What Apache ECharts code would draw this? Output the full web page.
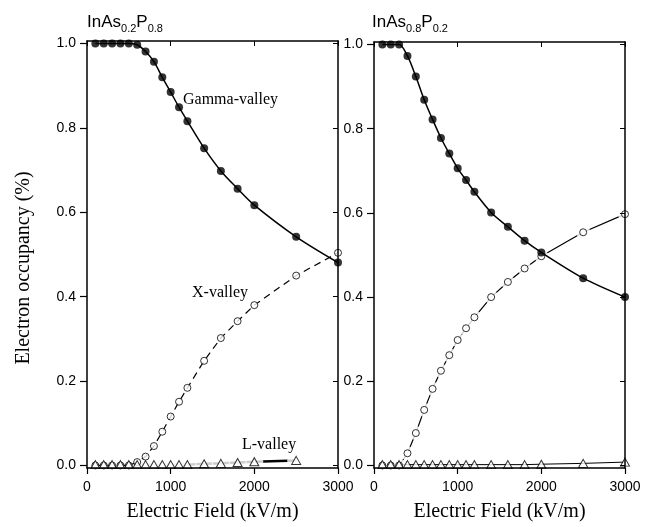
<!DOCTYPE html>
<html>
<head>
<meta charset="utf-8">
<title>Electron occupancy</title>
<script src="https://cdn.jsdelivr.net/npm/echarts@6/dist/echarts.min.js"></script>
<style>
  html, body { margin: 0; padding: 0; background: #fff; }
  #chart { width: 655px; height: 527px; }
</style>
</head>
<body>
<div id="chart"></div>
<script>
// 电场强度 (kV/m)
const fieldPoints = [100, 200, 300, 400, 500, 600, 700, 800, 900, 1000, 1100, 1200, 1400, 1600, 1800, 2000, 2500, 3000];

// InAs0.2P0.8
const gammaLeft = [1.0, 1.0, 1.0, 1.0, 1.0, 0.997, 0.981, 0.957, 0.920, 0.885, 0.849, 0.816, 0.752, 0.698, 0.656, 0.617, 0.542, 0.481];
const xValleyLeft = [0, 0, 0, 0, 0, 0.008, 0.021, 0.046, 0.080, 0.116, 0.151, 0.184, 0.248, 0.302, 0.342, 0.380, 0.450, 0.504];
const lValleyLeft = [0.002, 0.002, 0.002, 0.002, 0.002, 0.002, 0.002, 0.002, 0.002, 0.002, 0.002, 0.002, 0.004, 0.005, 0.007, 0.009, 0.012, null];

// InAs0.8P0.2
const gammaRight = [1.0, 1.0, 1.0, 0.973, 0.924, 0.869, 0.822, 0.778, 0.741, 0.706, 0.678, 0.650, 0.601, 0.567, 0.534, 0.506, 0.445, 0.400];
const xValleyRight = [0, 0, 0, 0.029, 0.077, 0.132, 0.182, 0.225, 0.262, 0.298, 0.326, 0.352, 0.400, 0.436, 0.468, 0.497, 0.554, 0.597];
const lValleyRight = [0.002, 0.002, 0.002, 0.002, 0.002, 0.002, 0.002, 0.002, 0.002, 0.002, 0.002, 0.002, 0.002, 0.002, 0.002, 0.003, 0.005, 0.008];

// 刻度
const yTicks = [0, 0.2, 0.4, 0.6, 0.8, 1.0];

const fontSans = 'Liberation Sans, Arial, sans-serif';
const fontSerif = 'Liberation Serif, Times New Roman, serif';

const chart = echarts.init(document.getElementById('chart'));

function pairs(xs, ys) {
    return xs.map((x, i) => [x, ys[i]]).filter(p => p[1] != null);
}

// 坐标轴 (每个面板: 下/上 x 轴, 左/右 y 轴)
function buildXAxes(gi) {
    const base = {
        gridIndex: gi, type: 'value', min: 0, max: 3000, interval: 1000, z: 20,
        splitLine: { show: false },
        axisLine: { onZero: false, lineStyle: { color: '#000', width: 1.5 } }
    };
    return [
        Object.assign({}, base, {
            position: 'bottom',
            axisTick: { inside: false, length: 6, lineStyle: { color: '#000', width: 1.2 } },
            axisLabel: { color: '#000', fontFamily: fontSans, fontSize: 14, margin: 12, formatter: v => String(v) },
            name: 'Electric Field (kV/m)',
            nameLocation: 'middle',
            nameGap: 34,
            nameTextStyle: { color: '#000', fontFamily: fontSerif, fontSize: 20 }
        }),
        Object.assign({}, base, {
            position: 'top',
            axisTick: { inside: true, length: 5, lineStyle: { color: '#000', width: 1 } },
            axisLabel: { show: false }
        })
    ];
}

function buildYAxes(gi) {
    const base = {
        gridIndex: gi, type: 'value', min: -0.006, max: 1.006, z: 20,
        splitLine: { show: false },
        axisLine: { onZero: false, lineStyle: { color: '#000', width: 1.5 } }
    };
    return [
        Object.assign({}, base, {
            position: 'left',
            axisTick: { inside: false, length: 7, customValues: yTicks, lineStyle: { color: '#000', width: 1.2 } },
            axisLabel: {
                color: '#000', fontFamily: fontSans, fontSize: 14, margin: 11,
                customValues: yTicks,
                formatter: v => v.toFixed(1)
            }
        }),
        Object.assign({}, base, {
            position: 'right',
            axisTick: { inside: true, length: 5, customValues: yTicks, lineStyle: { color: '#000', width: 1 } },
            axisLabel: { show: false }
        })
    ];
}

// 一个面板的所有系列
function buildSeries(gi, gamma, xValley, lValley, isLeft) {
    const ax = { xAxisIndex: gi * 2, yAxisIndex: gi * 2 };
    const list = [];

    // L-valley
    list.push(Object.assign({
        type: 'line', data: pairs(fieldPoints, lValley), showSymbol: false, z: 2,
        lineStyle: { color: '#000', width: isLeft ? 2.5 : 1 }
    }, ax));
    if (isLeft) {
        // 白色垫底, 让线在符号附近断开
        list.push(Object.assign({
            type: 'scatter', data: pairs(fieldPoints, lValley), symbol: 'circle', symbolSize: 18, z: 3,
            itemStyle: { color: '#fff' }
        }, ax));
    }
    list.push(Object.assign({
        type: 'scatter', data: pairs(fieldPoints, lValley), symbol: 'triangle', symbolSize: [9, 8], z: 10,
        itemStyle: { color: '#fff', borderColor: '#000', borderWidth: 1 }
    }, ax));

    // X-valley
    list.push(Object.assign({
        type: 'line', data: pairs(fieldPoints, xValley), showSymbol: false, z: 5,
        lineStyle: { color: '#000', width: 1.2, type: isLeft ? [7, 5] : 'solid' }
    }, ax));
    if (!isLeft) {
        list.push(Object.assign({
            type: 'scatter', data: pairs(fieldPoints, xValley), symbol: 'circle', symbolSize: 14, z: 6,
            itemStyle: { color: '#fff' }
        }, ax));
    }
    list.push(Object.assign({
        type: 'scatter', data: pairs(fieldPoints, xValley), symbol: 'circle', symbolSize: 7, z: 7,
        itemStyle: { color: '#fff', borderColor: '#000', borderWidth: 1 }
    }, ax));

    // Gamma-valley
    list.push(Object.assign({
        type: 'line', data: pairs(fieldPoints, gamma), showSymbol: false, smooth: 0.3, z: 8,
        lineStyle: { color: '#000', width: 1.5 }
    }, ax));
    list.push(Object.assign({
        type: 'scatter', data: pairs(fieldPoints, gamma), symbol: 'circle', symbolSize: 8, z: 9,
        itemStyle: { color: '#000' }
    }, ax));

    return list;
}

function titleRich() {
    return {
        a: { fontFamily: fontSans, fontSize: 17, fontWeight: 'normal', color: '#000' },
        s: { fontFamily: fontSans, fontSize: 11, fontWeight: 'normal', color: '#000', padding: [13, 0, 0, 0] }
    };
}

const option = {
    animation: false,
    backgroundColor: '#fff',
    title: [
        { left: 82, top: 5, text: '{a|InAs}{s|0.2}{a|P}{s|0.8}', textStyle: { fontWeight: 'normal', rich: titleRich() } },
        { left: 367, top: 5, text: '{a|InAs}{s|0.8}{a|P}{s|0.2}', textStyle: { fontWeight: 'normal', rich: titleRich() } }
    ],
    grid: [
        { left: 87, top: 41, width: 251, height: 427 },
        { left: 374, top: 42, width: 251, height: 426 }
    ],
    xAxis: buildXAxes(0).concat(buildXAxes(1)),
    yAxis: buildYAxes(0).concat(buildYAxes(1)),
    series: buildSeries(0, gammaLeft, xValleyLeft, lValleyLeft, true)
        .concat(buildSeries(1, gammaRight, xValleyRight, lValleyRight, false)),
    graphic: [
        {
            type: 'text', x: 24, y: 268, rotation: Math.PI / 2,
            style: { text: 'Electron occupancy (%)', font: '20px ' + fontSerif, fill: '#000', align: 'center', verticalAlign: 'middle' }
        },
        {
            type: 'text', x: 183, y: 100,
            style: { text: 'Gamma-valley', font: '16px ' + fontSerif, fill: '#000', verticalAlign: 'middle' }
        },
        {
            type: 'text', x: 192, y: 293,
            style: { text: 'X-valley', font: '16px ' + fontSerif, fill: '#000', verticalAlign: 'middle' }
        },
        {
            type: 'text', x: 242, y: 445,
            style: { text: 'L-valley', font: '16px ' + fontSerif, fill: '#000', verticalAlign: 'middle' }
        }
    ]
};

chart.setOption(option);
</script>
</body>
</html>
